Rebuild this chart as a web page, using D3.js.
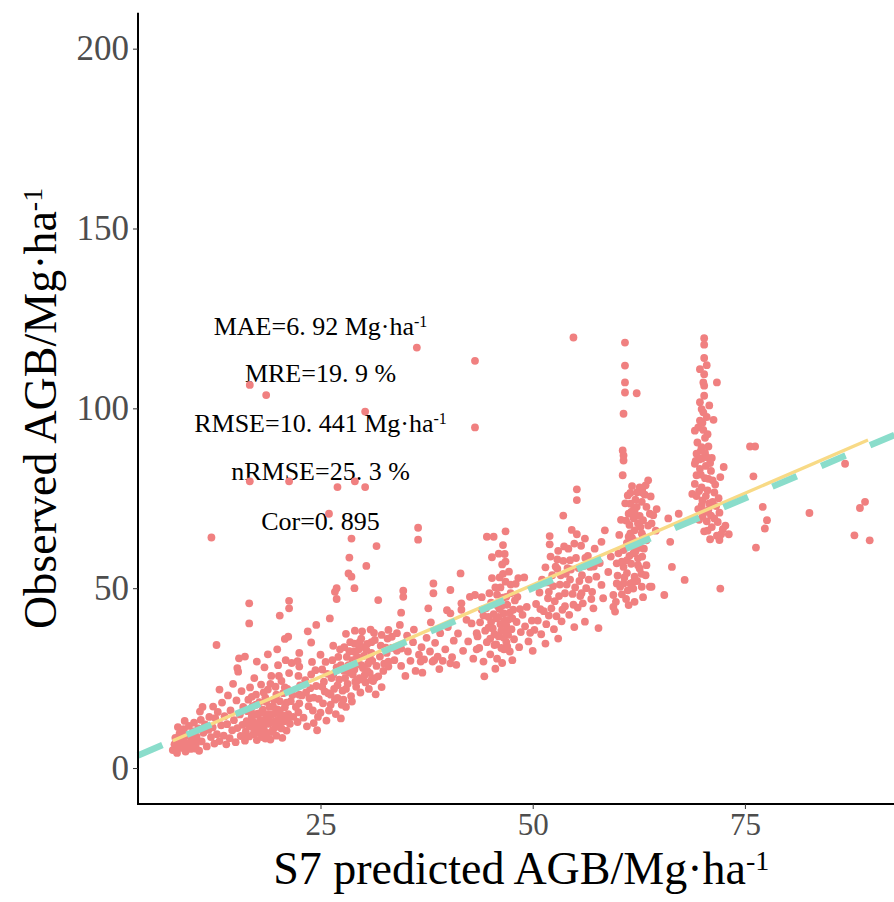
<!DOCTYPE html>
<html>
<head>
<meta charset="utf-8">
<script src="https://cdn.jsdelivr.net/npm/d3@7"></script>
<style>
  body { margin: 0; background: #fff; }
  svg { display: block; }
</style>
</head>
<body>
<svg id="chart"></svg>
<script>
// [predicted, observed] pairs
const grpA = [[7.6,5.0],[7.8,6.6],[7.9,8.4],[8.1,4.2],[8.3,7.3],[8.4,9.6],[8.6,5.6],[8.8,8.0],[8.9,10.8],[9.1,4.6],[9.2,6.9],[9.4,9.0],[9.5,11.7],[9.7,5.3],[9.8,7.9],[10.0,10.2],[10.1,12.6],[10.3,6.2],[10.4,8.7],[10.6,11.0],[10.7,4.8],[10.9,13.4],[11.0,7.4],[11.2,9.8],[11.4,12.1],[11.6,6.0],[11.8,10.6],[11.9,14.2],[10.8,15.7],[9.0,13.1],[8.2,11.4],[11.1,17.0],
  [8.0,5.8],[8.6,7.0],[9.3,5.8],[9.9,9.0],[10.5,7.6],[9.6,6.4],[8.9,9.2],[10.2,5.4]];
const grpB = [[12.1,8.6],[12.3,11.3],[12.35,17.1],[12.5,6.8],[12.6,13.9],[12.8,9.4],[12.9,15.6],[13.1,21.8],[13.1,7.5],[13.3,11.9],[13.4,18.2],[13.6,9.0],[13.7,14.4],[13.9,6.6],[14.0,12.2],[14.1,20.2],[14.3,8.3],[14.4,16.0],[14.6,10.5],[14.7,23.4],[14.8,13.3],[15.0,7.2],[15.1,18.8],[15.2,11.1],[15.3,26.8],[15.2,27.8],[15.4,30.5],[15.5,14.9],[15.6,8.9],[15.7,21.4],[15.8,12.0],[15.9,17.0],[16.1,31.0],[12.75,34.2],[12.15,64.1],
  [16.1,7.6],[16.2,10.2],[16.3,13.0],[16.4,15.8],[16.5,19.0],[16.6,8.8],[16.7,22.4],[16.8,11.6],[16.9,14.3],[17.0,17.2],[17.1,9.4],[17.2,25.0],[17.3,12.5],[17.4,20.4],[17.5,7.8],[17.6,15.1],[17.7,10.6],[17.8,18.3],[17.9,13.4],[18.0,23.2],[18.1,8.6],[18.2,16.2],[18.3,11.2],[18.4,28.0],[18.5,19.6],[18.6,14.0],[18.7,9.6],[18.8,21.8],[18.9,12.3],[19.0,17.0],[19.1,7.9],[19.2,25.6],[19.3,14.9],[19.4,10.6],[19.5,19.0],[19.6,12.9],[19.7,22.6],[19.8,9.0],[19.9,16.3],[20.0,28.6],[20.1,11.6],[20.2,18.6],[20.3,14.2],[20.4,24.2],[20.5,8.4],[20.6,20.8],[20.7,13.0],[20.8,16.9],[20.9,30.0],[21.0,10.4],[21.1,22.0],[21.2,15.0],[21.3,26.4],[21.4,12.3],[21.5,18.6],[21.6,29.2],[21.7,20.3],[21.8,14.2],
  [16.3,9.0],[16.5,12.0],[16.8,16.0],[17.0,13.0],[17.2,10.5],[17.4,17.6],[17.6,12.4],[17.8,9.8],[18.0,15.4],[18.2,12.8],[18.4,10.2],[18.6,18.4],[18.8,15.0],[19.0,13.2],[19.2,10.0],[19.4,17.2],[19.6,15.2],[19.8,20.4],[20.0,13.4],[20.2,16.0],[20.4,11.0],[20.6,14.6],[20.8,22.4],[21.0,18.2],[21.2,13.8],[17.3,14.8],[18.5,8.2],[19.7,11.4],[16.9,19.8],[18.3,21.0],[19.1,23.4],[20.1,25.6],
  [16.6,40.2],[16.6,45.8],[21.3,46.5],[21.3,44.4],[20.2,42.4],[21.2,36.5],[20.8,35.9],[19.9,33.0],[18.8,31.6],[17.5,29.6],[16.67,106.5],[18.6,103.7],[16.67,79.7],[21.3,79.7]];
const grpC = [[22.3,12.8],[22.4,15.5],[22.5,18.0],[22.5,20.4],[22.6,23.0],[22.4,25.6],[22.5,28.2],[22.3,29.7],[22.5,32.0],[23.0,14.0],[23.3,21.0],[23.6,17.2],[23.9,26.0],[23.9,34.9],[24.0,29.5],[24.2,12.5],[24.5,22.8],[24.5,39.8],[24.8,19.2],[25.0,15.4],[25.2,27.4],[25.4,24.0],[25.6,29.5],[25.7,13.2],[25.9,20.8],[26.1,41.6],[26.2,17.6],[26.3,25.0],[26.5,34.0],[26.6,22.0],[26.8,15.0],[26.9,28.0],[26.9,50.0],[26.7,49.0],[26.9,47.0],[27.0,19.5],[27.1,30.9],[27.2,24.6],[27.4,13.8],[27.6,21.5],[27.8,27.0],[28.0,37.3],[28.0,17.0],[28.1,30.9],[28.2,23.4],[28.4,32.5],[28.3,54.1],[28.65,53.2],[29.0,50.0],[28.4,58.5],[28.6,20.0],[28.8,26.0],[29.0,34.6],[29.05,38.2],[29.2,22.6],[29.4,29.2],[29.5,33.0],[29.6,25.0],[29.8,36.0],[30.0,27.8],[30.1,31.2],[30.3,23.8],[30.4,56.2],[30.5,34.5],[30.6,29.0],[30.8,26.4],[30.9,38.5],[31.0,32.0],[31.2,24.2],[31.4,35.6],[31.6,28.4],[31.6,61.7],[31.8,46.7],[32.0,31.0],[32.2,37.0],[32.4,27.0],[32.7,33.5],[33.0,29.6],[30.26,99.1],[27.0,78.1],[29.05,79.7],[30.26,78.1],[26.0,70.7],[28.65,63.8],[23.5,38.0],[24.6,10.5],[31.5,20.5],[32.2,22.5],
  [22.1,17.0],[22.8,20.2],[23.2,24.4],[23.4,11.6],[23.7,19.4],[24.1,16.0],[24.4,27.2],[24.7,14.2],[25.0,31.5],[25.3,18.0],[25.5,21.3],[25.8,26.2],[26.0,16.0],[26.4,30.0],[26.7,19.0],[27.3,33.0],[27.5,17.6],[27.9,25.0],[28.3,28.6],[28.5,35.0],[28.7,18.5],[29.1,24.0],[29.3,31.0],[29.7,21.0],[29.9,38.0],[30.2,25.8],[30.4,32.8],[30.7,22.0],[31.1,29.8],[31.3,37.6],[31.8,25.5],[32.1,34.0],[32.5,29.0],[32.9,36.0],[31.0,24.5],[31.4,25.0],
  [26.5,26.0],[27.0,23.0],[27.4,28.6],[27.7,19.0],[28.0,22.0],[28.4,26.6],[28.8,30.0],[29.0,27.4],[29.4,24.4],[29.8,28.6],[30.2,33.6],[30.5,27.0],[30.8,30.6],[31.0,35.0],[29.6,35.0],[28.9,32.4],[30.0,24.6],[26.2,20.4],[25.2,22.6],[23.8,22.2],[24.2,19.6],[27.8,33.6]];
const grpD = [[33.0,38.4],[34.0,37.5],[33.4,36.5],[32.8,32.0],[33.4,33.4],[34.0,32.6],[34.5,33.2],[35.3,32.4],[33.0,28.2],[34.5,28.4],[33.7,30.0],[34.75,49.3],[34.75,47.6],[34.5,43.2],[34.35,39.8],[35.0,25.6],[35.6,29.8],[35.9,35.0],[36.2,27.0],[36.6,31.5],[36.9,33.6],[37.2,30.2],[37.5,36.2],[37.7,44.4],[37.9,32.4],[38.2,29.6],[38.3,51.3],[38.3,48.6],[38.5,34.8],[38.8,31.0],[39.1,37.5],[39.4,29.8],[39.7,33.0],[39.9,43.9],[40.0,39.2],[40.3,43.0],[40.3,49.5],[40.5,30.8],[40.7,35.4],[41.0,28.7],[41.2,37.4],[41.5,54.1],[41.6,45.8],[41.6,44.0],[41.8,32.6],[42.2,41.2],[42.4,35.2],[42.6,47.6],[42.8,40.2],[43.0,30.4],[43.2,48.1],[36.5,66.8],[36.35,116.9],[36.5,63.5],[43.2,113.2],[43.2,94.7],[36.0,38.5],[37.0,26.5],[39.0,27.5],[35.2,36.8],[38.0,40.5],[40.3,29.1],[36.8,29.6],[38.4,30.0]];
const grpE = [[43.4,37.5],[43.5,36.6],[43.7,33.4],[43.4,33.0],[43.8,40.5],[44.0,44.0],[44.2,29.6],[44.4,38.2],[44.6,64.3],[44.6,35.0],[44.8,42.0],[45.0,31.6],[45.1,46.0],[45.3,38.8],[45.4,64.3],[45.5,34.2],[45.6,50.2],[45.7,41.6],[45.8,30.4],[45.9,45.0],[46.0,36.6],[46.1,53.0],[46.2,40.0],[46.3,33.4],[46.4,56.6],[46.5,47.4],[46.5,62.0],[46.6,43.0],[46.7,59.5],[46.7,38.0],[46.8,65.8],[46.8,51.8],[46.9,35.0],[47.0,45.4],[47.1,41.2],[47.2,54.6],[47.3,32.4],[47.4,48.6],[47.5,38.6],[47.7,44.0],[47.8,35.8],[48.0,51.2],[48.1,40.6],[48.3,52.8],[48.4,33.6],[48.6,37.8],[48.8,42.6],[49.0,53.0],[49.1,39.4],[49.3,44.8],[49.5,35.2],[49.7,37.6],[49.9,41.0],[44.0,47.5],[45.2,58.6],[44.3,25.5],[45.6,27.6],[46.4,29.2],[47.6,30.0],[45.0,36.0],[46.1,44.2],[46.9,39.6],[45.4,42.8],[46.6,33.0],[47.9,46.6],[44.8,39.0],
  [45.1,40.6],[45.5,37.2],[45.8,48.2],[46.0,42.0],[46.2,50.2],[46.3,38.2],[46.5,54.0],[46.7,41.0],[46.9,47.6],[47.1,37.0],[47.3,43.2],[47.4,51.0],[45.7,34.4],[46.6,36.2],[47.0,33.8],[44.5,44.4],[44.9,48.6],[45.6,45.6],[46.4,45.2],[47.6,41.6],[48.2,47.6],[48.5,44.2],[45.2,52.8],[46.8,57.4],[46.0,59.6],[44.2,42.4]];
const grpF = [[50.2,38.4],[50.4,45.6],[50.6,41.0],[50.8,48.8],[51.0,37.2],[51.1,52.4],[51.3,43.6],[51.5,55.8],[51.6,40.0],[51.8,47.2],[52.0,64.5],[52.1,58.8],[52.2,44.4],[52.4,50.6],[52.5,38.6],[52.7,56.0],[52.8,42.2],[53.0,60.4],[53.1,47.8],[53.3,53.6],[53.4,40.8],[53.6,57.6],[53.8,45.0],[54.0,51.0],[54.2,61.0],[54.3,42.6],[54.5,55.2],[54.7,48.4],[54.9,39.2],[55.1,58.4],[55.2,65.0],[55.3,44.6],[55.5,52.0],[55.7,61.8],[55.75,48.6],[55.9,45.8],[56.0,56.2],[56.15,63.8],[56.15,40.7],[56.3,50.0],[56.5,59.0],[56.75,55.9],[56.9,47.0],[57.15,44.4],[57.3,61.0],[57.75,38.9],[57.9,57.0],[54.8,119.7],[53.6,70.2],[55.2,77.5],[55.2,74.5],[51.5,34.6],[53.0,36.0],[50.0,32.6],[52.0,62.2],[54.6,66.2],[52.9,58.0],[53.9,54.0],[54.4,57.8],[51.9,49.0],
  [51.7,51.6],[52.3,53.6],[52.6,46.4],[53.2,51.0],[53.5,44.0],[53.8,48.6],[54.1,55.6],[54.4,52.4],[54.8,45.4],[55.0,50.2],[55.4,55.6],[55.8,53.6],[56.2,58.4],[56.6,52.4],[57.0,49.0],[57.2,56.0],[52.9,55.4],[53.7,61.6],[54.9,62.4],[51.9,42.4],[50.9,44.2],[55.6,47.8]];
const grpG = [[60.87,118.3],[60.87,111.9],[60.87,107.2],[60.87,104.4],[62.25,104.2],[60.7,98.5],[60.6,88.3],[60.7,86.9],[60.7,85.5],[60.6,81.4],[63.6,80.0],[63.3,78.6],[62.9,77.5],[61.5,76.5],[62.3,76.7],[62.9,76.6],[61.5,73.5],[61.85,71.7],[61.3,70.7],[62.25,72.6],[62.85,74.0],[63.4,72.6],[63.8,70.7],[64.2,70.3],[64.0,68.0],[63.0,68.9],[62.4,68.0],[62.0,66.1],[61.5,65.2],[61.3,64.3],[62.85,65.2],[63.4,63.3],[61.85,61.5],[60.7,60.6],[60.1,59.7],[61.1,57.8],[61.85,59.7],[62.4,58.3],[62.6,55.5],[62.0,53.2],[61.5,51.3],[60.7,51.3],[59.9,51.3],[60.3,50.4],[61.85,49.9],[62.85,50.4],[63.8,50.4],[59.5,44.8],[59.7,43.5],[61.3,45.3],[62.0,46.2],[64.0,50.4],[62.4,56.4],[60.7,55.9],[59.9,56.9],[61.9,69.4],[61.4,67.6],[62.6,70.1],[61.1,62.6],[62.2,63.0],[63.1,61.0],[61.6,56.8],[62.9,58.8],[61.1,54.2],[62.3,52.0],[63.3,53.6],[60.5,48.3],[61.0,47.0],[63.0,47.5],[64.5,66.0],[64.6,72.0],[63.9,75.5],[58.5,66.1],[58.1,62.9],[58.1,50.9],[58.3,47.2],[59.5,48.1],[59.8,46.2],[57.5,53.2],[58.9,54.5],[59.2,58.8],[60.2,64.8],[60.4,69.0],[60.0,53.5],
  [60.9,73.6],[61.2,75.8],[61.7,78.4],[62.1,74.6],[62.6,78.0],[63.2,76.0],[61.0,68.8],[61.7,64.0],[62.5,61.2],[63.6,67.4],[62.1,60.2],[61.4,59.0],[60.5,57.4],[62.8,54.0],[61.9,51.8],[61.2,49.4],[60.8,53.0],[63.4,56.4],[62.0,71.2],[61.6,71.2],[63.0,64.4],[62.7,67.0]];
const grpH = [[65.97,69.4],[67.2,70.7],[66.2,62.9],[66.4,55.9],[67.9,52.3],[65.5,48.1],[72.1,49.9],[70.2,119.5],[70.2,117.7],[70.2,114.0],[69.7,110.9],[70.2,109.5],[70.1,107.2],[70.2,106.3],[70.2,103.5],[71.7,107.2],[69.7,101.7],[69.9,99.8],[70.1,98.9],[69.7,96.6],[71.3,96.8],[69.5,94.7],[69.1,93.8],[70.3,91.8],[69.9,89.2],[70.7,89.4],[69.3,87.4],[69.9,86.0],[70.5,86.4],[71.1,86.2],[69.1,84.6],[69.7,83.2],[70.4,84.0],[71.0,82.6],[69.3,81.4],[70.3,80.6],[71.2,80.0],[72.1,80.9],[72.5,83.7],[69.1,79.0],[69.9,78.0],[70.6,77.2],[71.4,76.6],[69.3,75.6],[70.0,74.4],[70.8,73.6],[71.6,72.8],[69.5,72.0],[70.3,71.2],[71.0,70.2],[72.0,71.0],[70.5,68.6],[71.1,67.0],[71.7,64.6],[70.9,63.6],[72.4,66.4],[72.7,67.4],[73.1,65.0],[72.0,63.4],[70.2,65.8],[69.6,69.0],[68.8,76.2],[71.9,75.0],[70.6,92.8],[69.4,90.5],[70.8,100.8],[70.5,112.0],[69.2,85.4],
  [69.6,85.8],[70.3,87.6],[70.9,84.8],[69.8,81.6],[70.7,80.4],[71.5,78.8],[69.6,77.0],[70.4,75.6],[71.2,74.0],[69.9,73.0],[70.7,71.8],[71.4,69.4],[70.0,70.0],[71.8,68.4],[70.6,66.0],[72.2,65.0],[69.8,88.2],[70.1,94.0],[70.0,96.0],[70.5,97.6]];
const grpI = [[75.6,89.4],[76.2,89.4],[76.0,81.1],[77.1,72.6],[77.6,68.9],[77.35,66.6],[76.3,61.3],[82.6,70.9],[86.8,84.6],[89.15,74.0],[88.55,72.3],[87.9,64.7],[89.7,63.3]];

// fitted line ends and 1:1 reference
const fitX = [7.6, 89.5];
const fitY = [7.6, 91.2];
const refX = [3.5, 93.8];

// axis ticks and statistics text
const xTicks = [25, 50, 75];
const yTicks = [0, 50, 100, 150, 200];
const statText = ["MAE=6. 92 Mg\u00b7ha", "MRE=19. 9 %", "RMSE=10. 441 Mg\u00b7ha", "nRMSE=25. 3 %", "Cor=0. 895"];
const statSup = ["-1", "", "-1", "", ""];
const statY = [120.4, 107.2, 93.5, 80.1, 66.2];
const statX = 25;

const W = 894, H = 902;
const font = "'Liberation Serif', 'Times New Roman', serif";
const svg = d3.select("#chart").attr("width", W).attr("height", H);

const x = d3.scaleLinear().domain([3.5, 93.8]).range([138, 904.5]);
const y = d3.scaleLinear().domain([-10, 210]).range([804, 12.7]);

// stats text (points are drawn over it)
statText.forEach(function(t, i) {
  const txt = svg.append("text")
      .attr("x", x(statX)).attr("y", y(statY[i]))
      .attr("text-anchor", "middle")
      .style("font-family", font).style("font-size", "26px").attr("fill", "#000");
  txt.append("tspan").text(t);
  if (statSup[i]) {
    txt.append("tspan").text(statSup[i]).attr("dy", -8).style("font-size", "16px");
  }
});

const points = [].concat(grpA, grpB, grpC, grpD, grpE, grpF, grpG, grpH, grpI);
svg.append("g").selectAll("circle")
  .data(points).enter()
  .append("circle")
    .attr("cx", function(d) { return x(d[0]); })
    .attr("cy", function(d) { return y(d[1]); })
    .attr("r", 3.9)
    .attr("fill", "#F08080");

// regression line
svg.append("line")
  .attr("x1", x(fitX[0])).attr("y1", y(fitY[0]))
  .attr("x2", x(fitX[1])).attr("y2", y(fitY[1]))
  .attr("stroke", "#F8DA86").attr("stroke-width", 3.4);

// 1:1 line
svg.append("line")
  .attr("x1", x(refX[0])).attr("y1", y(refX[0]))
  .attr("x2", x(refX[1])).attr("y2", y(refX[1]))
  .attr("stroke", "#8ADDCB").attr("stroke-width", 6.5)
  .attr("stroke-dasharray", "26.5,26.5");

// axes
const yAxis = svg.append("g").attr("transform", "translate(138,0)")
  .call(d3.axisLeft(y).tickValues(yTicks).tickSize(5).tickSizeOuter(0).tickPadding(4));
const xAxis = svg.append("g").attr("transform", "translate(0,804)")
  .call(d3.axisBottom(x).tickValues(xTicks).tickSize(5).tickSizeOuter(0).tickPadding(4));

[yAxis, xAxis].forEach(function(g) {
  g.select(".domain").attr("stroke", "#000").attr("stroke-width", 2);
  g.selectAll(".tick line").attr("stroke", "#333").attr("stroke-width", 1);
  g.selectAll(".tick text").style("font-family", font).attr("fill", "#4D4D4D");
});
yAxis.selectAll(".tick text").style("font-size", "35px");
xAxis.selectAll(".tick text").style("font-size", "31px");
// extend y axis line down to the x axis
yAxis.select(".domain").attr("d", "M0," + y(210) + "V804");
xAxis.select(".domain").attr("d", "M137,0H" + W);

// axis titles
const xt = svg.append("text")
  .attr("x", (138 + 904.5) / 2).attr("y", 884)
  .attr("text-anchor", "middle")
  .style("font-family", font).style("font-size", "46px");
xt.append("tspan").text("S7 predicted AGB/Mg\u00b7ha");
xt.append("tspan").text("-1").attr("dy", -14).style("font-size", "28px");

const yt = svg.append("text")
  .attr("transform", "translate(56," + (y(-10) + y(210)) / 2 + ") rotate(-90)")
  .attr("text-anchor", "middle")
  .style("font-family", font).style("font-size", "46px");
yt.append("tspan").text("Observed AGB/Mg\u00b7ha");
yt.append("tspan").text("-1").attr("dy", -14).style("font-size", "28px");
</script>
</body>
</html>
